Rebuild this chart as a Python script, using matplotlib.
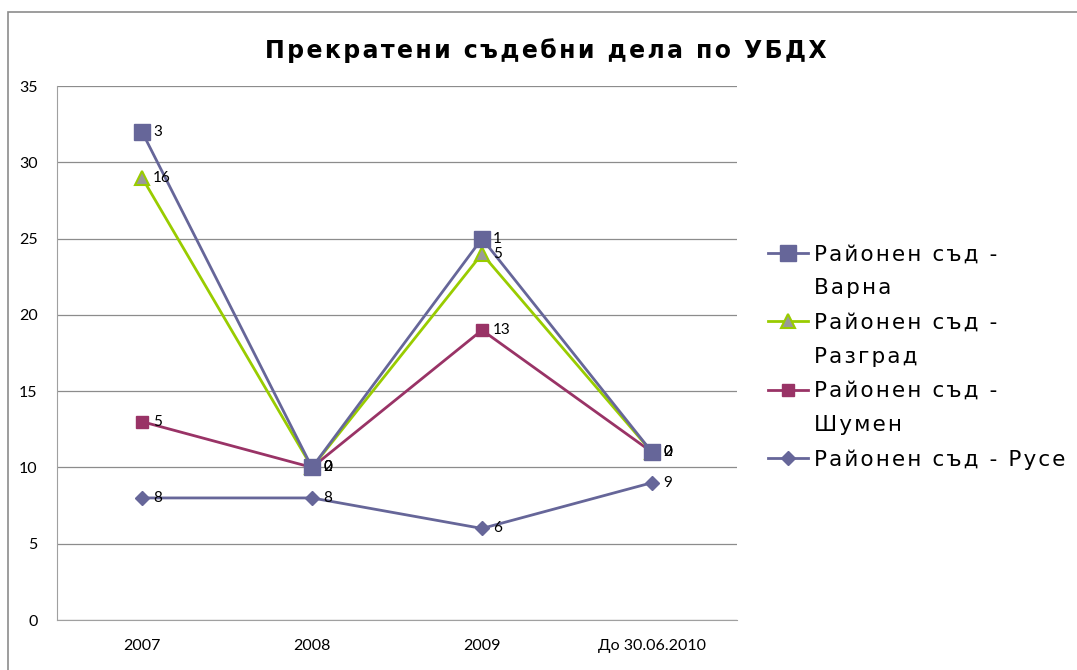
import numpy as np
import matplotlib.pyplot as plt
from matplotlib.lines import Line2D
from matplotlib.patches import Rectangle

# Данни (стойности по съдилища, натрупана линейна диаграма)
categories = ["2007", "2008", "2009", "До 30.06.2010"]
ruse = [8, 8, 6, 9]
shumen = [5, 2, 13, 2]
razgrad = [16, 0, 5, 0]
varna = [3, 0, 1, 0]

series = [
    ("Районен съд - Русе", ruse),
    ("Районен съд - Шумен", shumen),
    ("Районен съд - Разград", razgrad),
    ("Районен съд - Варна", varna),
]
styles = {
    "Районен съд - Русе": dict(color="#666699", marker="D", ms=7.5, mfc="#666699", mec="#666699"),
    "Районен съд - Шумен": dict(color="#993366", marker="s", ms=8.5, mfc="#993366", mec="#993366"),
    "Районен съд - Разград": dict(color="#99CC00", marker="^", ms=10, mfc="#999999", mec="#99CC00", mew=1.5),
    "Районен съд - Варна": dict(color="#666699", marker="s", ms=12, mfc="#666699", mec="#666699"),
}


def spaced(s):
    # разредка на буквите, както в Excel
    return "\u200a".join(s)


fig = plt.figure(figsize=(10.77, 6.70), dpi=100)
ax = fig.add_axes([57 / 1077, 1 - 620 / 670, 680 / 1077, 534 / 670])

x = np.arange(len(categories))
base = np.zeros(len(categories))
for name, vals in series:
    top = base + np.array(vals)
    ax.plot(x, top, lw=2, zorder=3, **styles[name])
    for xi, yi, v in zip(x, top, vals):
        ax.annotate(str(v), (xi, yi), xytext=(8, 0), textcoords="offset points",
                    ha="left", va="center", fontsize=11, family="Lato", zorder=5)
    base = top

ax.set_xlim(-0.5, len(categories) - 0.5)
ax.set_ylim(0, 35)
ax.set_yticks(range(0, 36, 5))
ax.set_xticks(x)
ax.set_xticklabels(categories)
ax.grid(axis="y", color="#8c8c8c", lw=0.9, zorder=0)
for s in ["top", "right"]:
    ax.spines[s].set_visible(False)
for s in ["left", "bottom"]:
    ax.spines[s].set_color("#a0a0a0")
ax.tick_params(axis="both", length=0, labelsize=11.5)
ax.tick_params(axis="y", pad=14)
ax.tick_params(axis="x", pad=14)
for lab in ax.get_xticklabels() + ax.get_yticklabels():
    lab.set_family("Lato")

# Заглавие
fig.text(0.507, 0.925, spaced("Прекратени съдебни дела по УБДХ"), ha="center", va="center",
         fontsize=17, fontweight="bold", family="DejaVu Sans")

# Легенда (текстът е пренесен на два реда)
blank = Line2D([], [], linestyle="none")


def h(name):
    return Line2D([], [], lw=2, **styles[name])


handles = [h("Районен съд - Варна"), blank, h("Районен съд - Разград"), blank,
           h("Районен съд - Шумен"), blank, h("Районен съд - Русе")]
labels = ["Районен съд -", "Варна", "Районен съд -", "Разград",
          "Районен съд -", "Шумен", "Районен съд - Русе"]
fig.legend(handles, [spaced(l) for l in labels], loc="center left",
           bbox_to_anchor=(0.713, 0.467), frameon=False,
           handlelength=1.85, handletextpad=0.3,
           labelspacing=0.66, borderpad=0, borderaxespad=0,
           prop={"family": "DejaVu Sans", "size": 15.5})

# Рамка на диаграмата
fig.patches.append(Rectangle((8 / 1077, -0.05), 1.1, 1 - 12 / 670 + 0.05,
                             transform=fig.transFigure, fill=False,
                             edgecolor="#8c8c8c", lw=1.2))

fig.savefig("out.png", dpi=100)
